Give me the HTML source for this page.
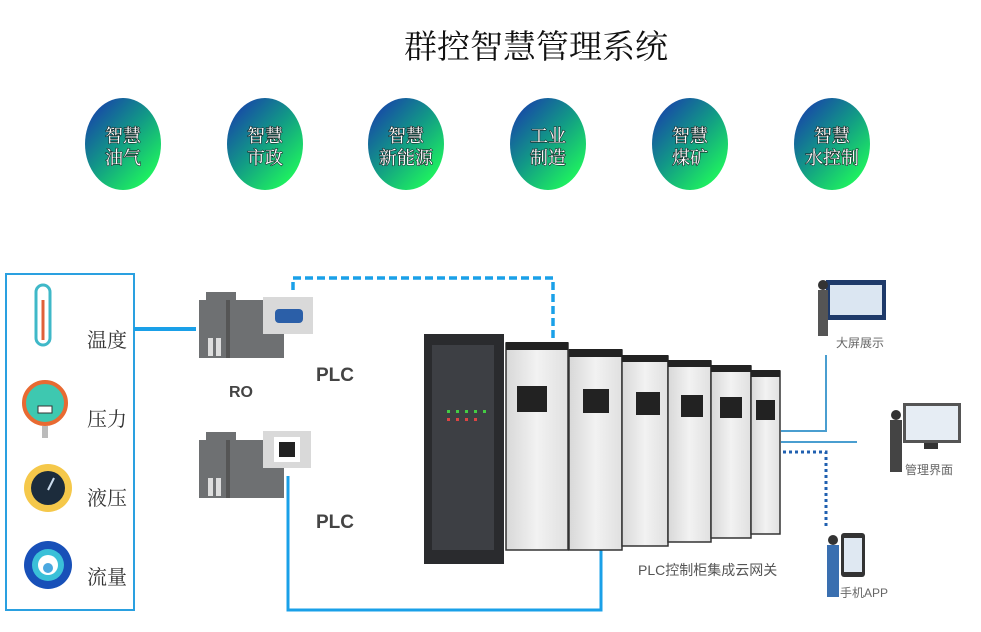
<!DOCTYPE html>
<html><head><meta charset="utf-8"><style>
body{margin:0;background:#fff;width:981px;height:627px;overflow:hidden}
</style></head><body>
<svg width="981" height="627" viewBox="0 0 981 627" xmlns="http://www.w3.org/2000/svg" font-family="'Liberation Serif','Noto Serif CJK SC',serif">
<defs>
<linearGradient id="g" x1="0.1" y1="0.1" x2="0.8" y2="0.9">
<stop offset="0" stop-color="#1747a8"/><stop offset="0.5" stop-color="#129a86"/><stop offset="1" stop-color="#1ef060"/></linearGradient>
<linearGradient id="cab" x1="0" x2="1"><stop offset="0" stop-color="#d8d8d8"/><stop offset="0.5" stop-color="#f2f2f2"/><stop offset="1" stop-color="#e0e0e0"/></linearGradient>
</defs>
<text x="536" y="58" font-size="33" text-anchor="middle" fill="#111">群控智慧管理系统</text>
<g font-size="18" fill="#fff" text-anchor="middle" style="paint-order:stroke" stroke="#1a2a2a" stroke-width="1.2">
<ellipse cx="123" cy="144" rx="38" ry="46" fill="url(#g)" stroke="none"/>
<text x="123" y="142">智慧</text><text x="123" y="164">油气</text>
<ellipse cx="265" cy="144" rx="38" ry="46" fill="url(#g)" stroke="none"/>
<text x="265" y="142">智慧</text><text x="265" y="164">市政</text>
<ellipse cx="406" cy="144" rx="38" ry="46" fill="url(#g)" stroke="none"/>
<text x="406" y="142">智慧</text><text x="406" y="164">新能源</text>
<ellipse cx="548" cy="144" rx="38" ry="46" fill="url(#g)" stroke="none"/>
<text x="548" y="142">工业</text><text x="548" y="164">制造</text>
<ellipse cx="690" cy="144" rx="38" ry="46" fill="url(#g)" stroke="none"/>
<text x="690" y="142">智慧</text><text x="690" y="164">煤矿</text>
<ellipse cx="832" cy="144" rx="38" ry="46" fill="url(#g)" stroke="none"/>
<text x="832" y="142">智慧</text><text x="832" y="164">水控制</text>
</g>
<!-- sensor box -->
<rect x="6" y="274" width="128" height="336" fill="none" stroke="#2aa0e0" stroke-width="2"/>
<line x1="134" y1="329" x2="196" y2="329" stroke="#1aa0e8" stroke-width="4"/>
<!-- icons -->
<rect x="36" y="285" width="14" height="60" rx="7" fill="#fff" stroke="#3fb8c8" stroke-width="3"/>
<line x1="43" y1="300" x2="43" y2="340" stroke="#e0603a" stroke-width="3"/>
<circle cx="45" cy="403" r="21" fill="#3ec8b0" stroke="#e86a32" stroke-width="4"/>
<rect x="38" y="406" width="14" height="7" fill="#fff" stroke="#333"/>
<rect x="42" y="426" width="6" height="12" fill="#bbb"/>
<circle cx="48" cy="488" r="24" fill="#f5c84a"/><circle cx="48" cy="488" r="17" fill="#1c2c3c"/>
<line x1="48" y1="490" x2="54" y2="478" stroke="#cde" stroke-width="2"/>
<circle cx="48" cy="565" r="24" fill="#1850b8"/><circle cx="48" cy="565" r="16" fill="#3ac0d8"/><circle cx="48" cy="565" r="10" fill="#fff"/><circle cx="48" cy="568" r="5" fill="#4aa8e0"/>
<g font-size="20" fill="#333">
<text x="87" y="347">温度</text><text x="87" y="426">压力</text><text x="87" y="505">液压</text><text x="87" y="584">流量</text>
</g>
<!-- PLC devices -->
<g fill="#6e7072">
<rect x="199" y="300" width="85" height="58"/><rect x="206" y="292" width="30" height="10"/>
<rect x="199" y="440" width="85" height="58"/><rect x="206" y="432" width="30" height="10"/>
</g>
<g fill="#555"><rect x="226" y="300" width="4" height="58"/><rect x="226" y="440" width="4" height="58"/></g>
<g fill="#ddd"><rect x="208" y="338" width="5" height="18"/><rect x="216" y="338" width="5" height="18"/><rect x="208" y="478" width="5" height="18"/><rect x="216" y="478" width="5" height="18"/></g>
<rect x="263" y="297" width="50" height="37" fill="#d9d9d9"/>
<rect x="275" y="309" width="28" height="14" rx="4" fill="#2b5fa8"/>
<rect x="263" y="431" width="48" height="37" fill="#d9d9d9"/>
<rect x="274" y="437" width="26" height="25" fill="#fff"/><rect x="279" y="442" width="16" height="15" fill="#222"/>
<g font-family="'Liberation Sans',sans-serif" font-weight="bold" fill="#444">
<text x="229" y="397" font-size="16">RO</text>
<text x="316" y="381" font-size="19">PLC</text>
<text x="316" y="528" font-size="19">PLC</text>
</g>
<!-- connectors -->
<path d="M293 290 V278 H553 V345" fill="none" stroke="#1aa0e8" stroke-width="3.5" stroke-dasharray="8,4"/>
<path d="M288 476 V610 H601 V548" fill="none" stroke="#1aa0e8" stroke-width="3"/>
<path d="M781 431 H826 V355" fill="none" stroke="#4a9ed0" stroke-width="2"/>
<line x1="781" y1="442" x2="857" y2="442" stroke="#4a9ed0" stroke-width="2"/>
<path d="M783 452 H826 V528" fill="none" stroke="#2060b0" stroke-width="3" stroke-dasharray="3,3"/>
<!-- cabinets -->
<rect x="424" y="334" width="80" height="230" fill="#2a2b2e"/>
<rect x="432" y="345" width="62" height="205" fill="#3d3f44"/>
<g fill="#4c4"><rect x="447" y="410" width="3" height="3"/><rect x="456" y="410" width="3" height="3"/><rect x="465" y="410" width="3" height="3"/><rect x="474" y="410" width="3" height="3"/><rect x="483" y="410" width="3" height="3"/></g>
<g fill="#d44"><rect x="447" y="418" width="3" height="3"/><rect x="456" y="418" width="3" height="3"/><rect x="465" y="418" width="3" height="3"/><rect x="474" y="418" width="3" height="3"/></g>
<g stroke="#333" stroke-width="1.5">
<rect x="506" y="343" width="62" height="207" fill="url(#cab)"/>
<rect x="569" y="350" width="53" height="200" fill="url(#cab)"/>
<rect x="622" y="356" width="46" height="190" fill="url(#cab)"/>
<rect x="668" y="361" width="43" height="181" fill="url(#cab)"/>
<rect x="711" y="366" width="40" height="172" fill="url(#cab)"/>
<rect x="751" y="371" width="29" height="163" fill="url(#cab)"/>
</g>
<g fill="#222">
<rect x="506" y="342" width="62" height="8"/><rect x="569" y="349" width="53" height="8"/><rect x="622" y="355" width="46" height="7"/><rect x="668" y="360" width="43" height="7"/><rect x="711" y="365" width="40" height="7"/><rect x="751" y="370" width="29" height="7"/>
<rect x="517" y="386" width="30" height="26"/><rect x="583" y="389" width="26" height="24"/><rect x="636" y="392" width="24" height="23"/><rect x="681" y="395" width="22" height="22"/><rect x="720" y="397" width="22" height="21"/><rect x="756" y="400" width="19" height="20"/>
</g>
<text x="638" y="575" font-family="'Liberation Sans','Noto Sans CJK SC',sans-serif" font-size="14" fill="#555">PLC控制柜集成云网关</text>
<!-- right side users -->
<rect x="826" y="280" width="60" height="40" fill="#1e3a6a"/><rect x="830" y="285" width="52" height="30" fill="#dbe6f2"/>
<rect x="818" y="290" width="10" height="46" fill="#555"/><circle cx="823" cy="285" r="5" fill="#333"/>
<text x="836" y="347" font-family="'Liberation Sans','Noto Sans CJK SC',sans-serif" font-size="12" fill="#666">大屏展示</text>
<rect x="903" y="403" width="58" height="40" fill="#555"/><rect x="906" y="406" width="52" height="34" fill="#e6edf4"/>
<rect x="924" y="443" width="14" height="6" fill="#333"/>
<rect x="890" y="420" width="12" height="52" fill="#444"/><circle cx="896" cy="415" r="5" fill="#333"/>
<text x="905" y="474" font-family="'Liberation Sans','Noto Sans CJK SC',sans-serif" font-size="12" fill="#666">管理界面</text>
<rect x="841" y="533" width="24" height="44" rx="3" fill="#333"/><rect x="844" y="538" width="18" height="34" fill="#dfe8f2"/>
<rect x="827" y="545" width="12" height="52" fill="#3a6fb0"/><circle cx="833" cy="540" r="5" fill="#333"/>
<text x="840" y="597" font-family="'Liberation Sans','Noto Sans CJK SC',sans-serif" font-size="12" fill="#666">手机APP</text>
</svg>
</body></html>
